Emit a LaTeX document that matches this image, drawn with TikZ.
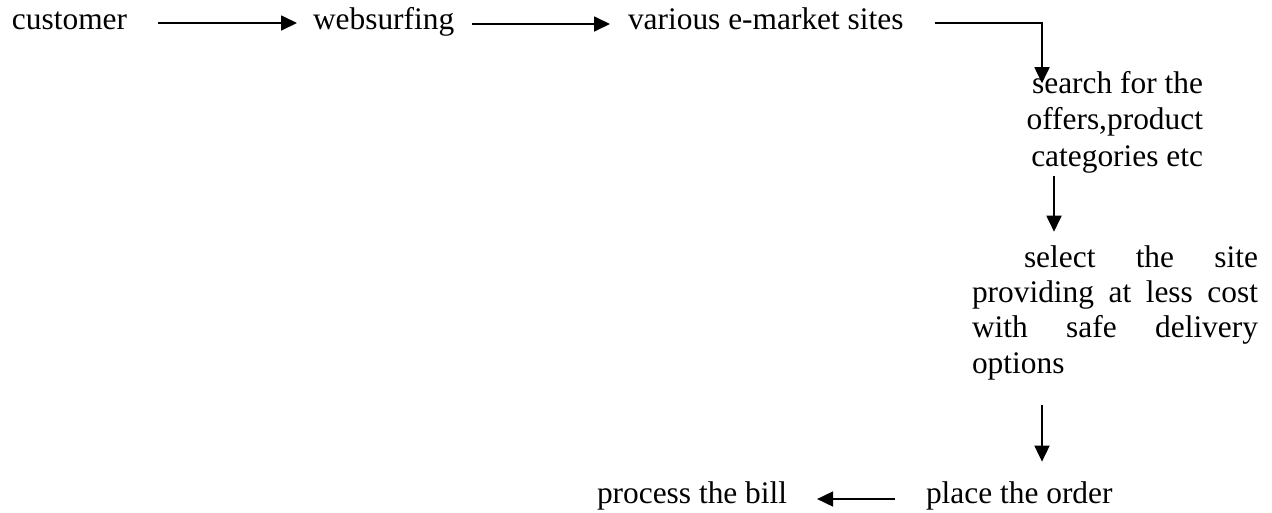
\documentclass[tikz,border=0pt]{standalone}
\usepackage{fontspec}
\setmainfont{Liberation Serif}
\usetikzlibrary{arrows.meta}
\begin{document}
\begin{tikzpicture}[x=1pt,y=-1pt,
  lbl/.style={inner sep=0pt,outer sep=0pt,font=\fontsize{31.4}{36.8}\selectfont},
  arr/.style={line width=1.8pt,-{Triangle[length=16pt,width=15pt]}},
  ln/.style={line width=1.8pt}]
\useasboundingbox[fill=white] (0,0) rectangle (1272,512);
\node[lbl,anchor=base west] (cust) at (12,29) {customer};
\node[lbl,anchor=base west] (web) at (313,29) {websurfing};
\node[lbl,anchor=base west] (var) at (628,29) {various e-market sites};
\node[lbl,anchor=base east,align=right] (search) at (1203,166.6) {search for the\\offers,product\\categories etc};
\node[lbl,anchor=base west,align=left,font=\fontsize{31.4}{35.3}\selectfont] (sel) at (972,373)
  {\makebox[286pt][s]{\hspace*{52pt}select the site}\\\makebox[286pt][s]{providing at less cost}\\\makebox[286pt][s]{with safe delivery}\\options};
\node[lbl,anchor=base west] (order) at (926,503) {place the order};
\node[lbl,anchor=base west] (bill) at (597,503) {process the bill};
% connectors
\coordinate (xa) at (1042,0);
\coordinate (xb) at (1054,0);
\draw[arr,shorten <=31pt,shorten >=-12.3pt] ([yshift=6pt]var.base east) -- ([yshift=6pt]var.base east -| xa) -- (xa |- search.north);
\draw[arr,shorten <=31pt,shorten >=16pt] ([yshift=6pt]cust.base east) -- ([yshift=6pt]web.base west);
\draw[arr,shorten <=18pt,shorten >=18pt] ([yshift=5pt]web.base east) -- ([yshift=5pt]var.base west);
\draw[arr,shorten <=3pt,shorten >=13.6pt] (xb |- search.south) -- (xb |- sel.north);
\draw[arr,shorten <=25pt,shorten >=19.6pt] (xa |- sel.south) -- (xa |- order.north);
\draw[arr,shorten <=31pt,shorten >=30pt] ([yshift=4pt]order.base west) -- ([yshift=4pt]bill.base east);
\end{tikzpicture}
\end{document}
